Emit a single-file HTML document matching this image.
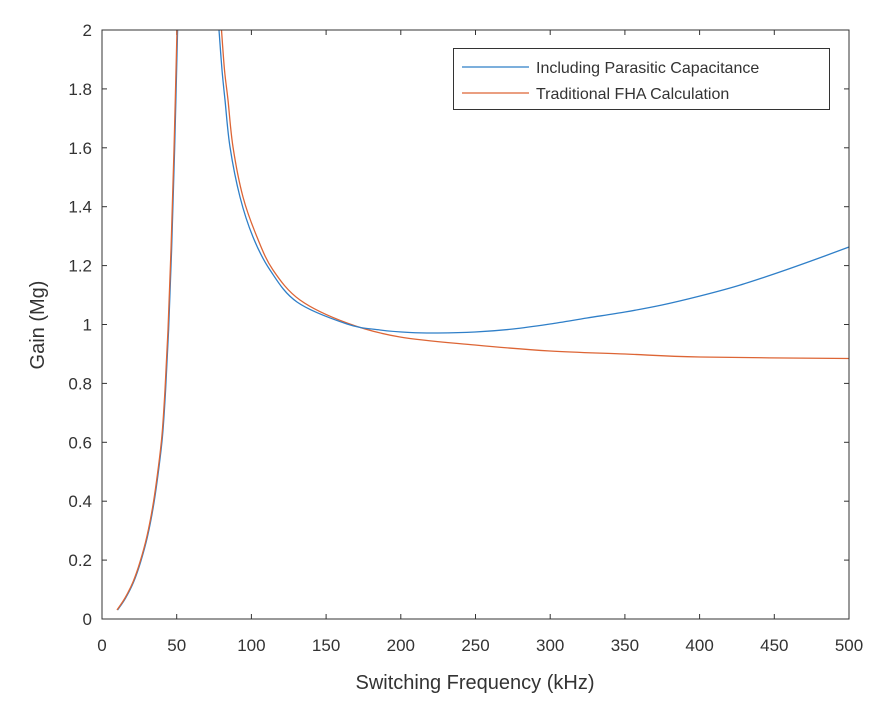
<!DOCTYPE html>
<html><head><meta charset="utf-8"><style>
body{margin:0;background:#fff}
svg text{font-family:"Liberation Sans",Arial,sans-serif;fill:#333}
</style></head><body>
<svg id="s" width="890" height="713" viewBox="0 0 890 713" xmlns="http://www.w3.org/2000/svg">
<rect width="890" height="713" fill="#fff"/>
<g id="ticks" stroke="#333" stroke-width="1"></g>
<g id="labels" font-size="17"></g>
<path id="blue" fill="none" stroke="#2f7fc8" stroke-width="1.3"/>
<path id="red" fill="none" stroke="#dd6535" stroke-width="1.3"/>
<path id="red2" fill="none" stroke="#dd6535" stroke-width="1.3"/>
<path id="blue2" fill="none" stroke="#2f7fc8" stroke-width="1.3"/>
<rect x="102" y="30" width="747" height="589" fill="none" stroke="#333" stroke-width="1"/>
<text x="475" y="689" font-size="20" text-anchor="middle">Switching Frequency (kHz)</text>
<text transform="translate(44,325) rotate(-90)" font-size="20" text-anchor="middle">Gain (Mg)</text>
<rect x="453.5" y="48.5" width="376" height="61" fill="#fff" stroke="#333" stroke-width="1"/>
<line x1="462" y1="67" x2="529" y2="67" stroke="#2f7fc8" stroke-width="1.3"/>
<line x1="462" y1="93" x2="529" y2="93" stroke="#dd6535" stroke-width="1.3"/>
<text x="536" y="73" font-size="16">Including Parasitic Capacitance</text>
<text x="536" y="99" font-size="16">Traditional FHA Calculation</text>
</svg>
<script>
function cr(p){var d="M"+p[0][0]+","+p[0][1];for(var i=0;i<p.length-1;i++){var p0=p[Math.max(0,i-1)],p1=p[i],p2=p[i+1],p3=p[Math.min(p.length-1,i+2)];
d+=" C"+(p1[0]+(p2[0]-p0[0])/6)+","+(p1[1]+(p2[1]-p0[1])/6)+" "+(p2[0]-(p3[0]-p1[0])/6)+","+(p2[1]-(p3[1]-p1[1])/6)+" "+p2[0]+","+p2[1];}return d;}
var rise=[[117,610],[125,598],[133,582],[140,562],[147,536],[153,505],[158,470],[162,435],[165,390],[168,330],[171,250],[174,150],[177,30]];
document.getElementById('red').setAttribute('d',cr(rise));
document.getElementById('blue').setAttribute('d',cr(rise.map(function(p){return [p[0]+0.6,p[1]]})));
var red=[[221.5,30],[224.5,70],[228,100],[233,147],[243,197],[257,237],[273,270],[300,300],[347,323],[400,337],[475,345],[550,351],[625,354],[700,357],[849,358.5]];
var blue=[[219,30],[222,70],[225,100],[230,147],[240,197],[253,237],[270,270],[297,302],[347,324],[380,330],[410,332.5],[438,333],[475,332],[513,329],[550,324],[587,318],[625,312],[662,305],[700,296],[737,286],[774,274],[811,261],[849,247]];
document.getElementById('red2').setAttribute('d',cr(red));
document.getElementById('blue2').setAttribute('d',cr(blue));
var t=document.getElementById('ticks'),l=document.getElementById('labels'),ns="http://www.w3.org/2000/svg";
function ln(a,b,c,d){var e=document.createElementNS(ns,'line');e.setAttribute('x1',a);e.setAttribute('y1',b);e.setAttribute('x2',c);e.setAttribute('y2',d);t.appendChild(e);}
function tx(x,y,s,a){var e=document.createElementNS(ns,'text');e.setAttribute('x',x);e.setAttribute('y',y);e.setAttribute('text-anchor',a);e.textContent=s;l.appendChild(e);}
for(var i=0;i<=10;i++){var x=102+i*74.7;ln(x,619,x,614);ln(x,30,x,35);tx(x,651,String(i*50),'middle');}
var yl=["0","0.2","0.4","0.6","0.8","1","1.2","1.4","1.6","1.8","2"];
for(var j=0;j<=10;j++){var y=619-j*58.9;ln(102,y,107,y);ln(849,y,844,y);tx(92,y+6,yl[j],'end');}
</script>
</body></html>
